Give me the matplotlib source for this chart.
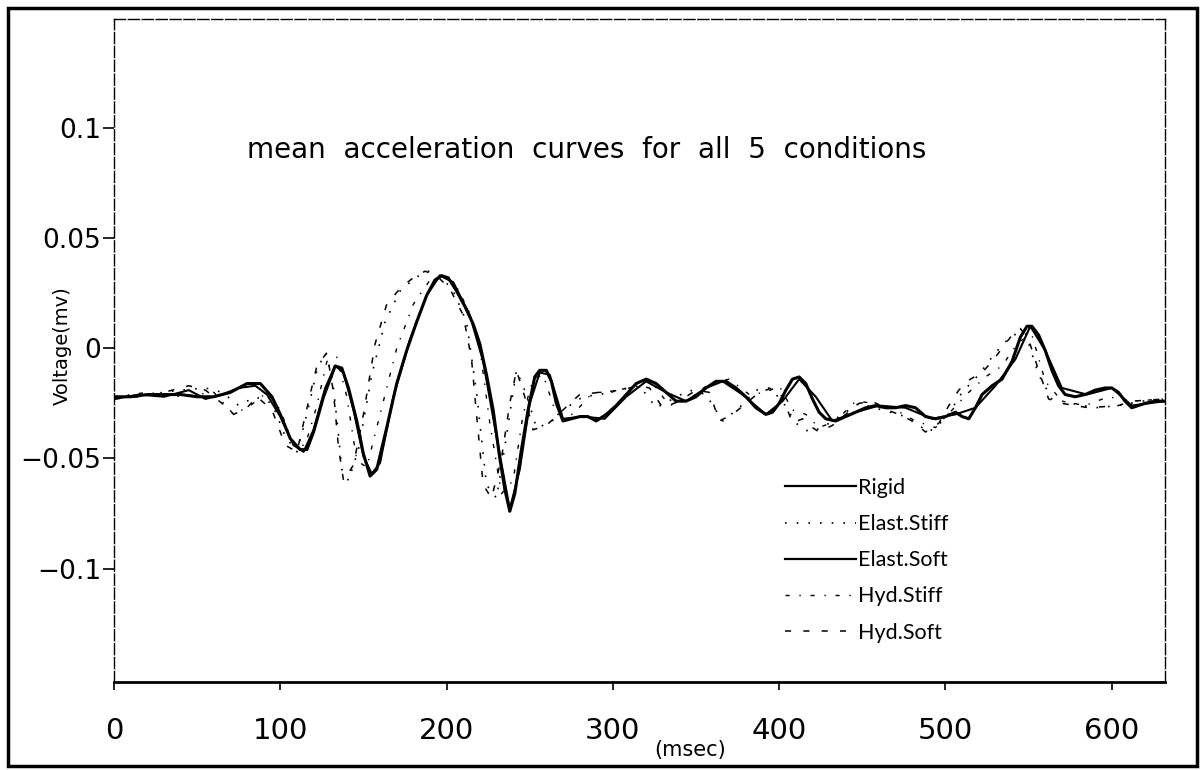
import numpy as np
import matplotlib
matplotlib.use("Agg")
import matplotlib.pyplot as plt
from matplotlib.patches import Rectangle

# =========================================================
# Data (time in msec, voltage in mv)
# =========================================================
rigid_t = [0, 10, 20, 30, 40, 50, 60, 70, 80, 88, 95, 100, 106, 112, 116, 120,
           126, 133, 137, 141, 146, 150, 154, 158, 164, 170, 176, 182, 188, 193,
           197, 201, 206, 211, 216, 220, 224, 228, 232, 235, 238, 241, 245, 249,
           253, 256, 260, 263, 266, 270, 275, 280, 285, 290, 296, 302, 308, 314,
           320, 326, 332, 338, 344, 350, 356, 362, 368, 374, 380, 386, 392, 396,
           400, 404, 408, 412, 416, 420, 424, 428, 434, 440, 446, 452, 458, 464,
           470, 476, 482, 488, 494, 500, 506, 510, 514, 518, 522, 528, 534, 540,
           545, 549, 552, 556, 560, 564, 568, 572, 578, 584, 590, 596, 600, 604,
           608, 612, 616, 620, 626, 632]
rigid_v = [-0.022, -0.022, -0.021, -0.021, -0.021, -0.022, -0.022, -0.020, -0.016,
           -0.016, -0.022, -0.030, -0.041, -0.046, -0.046, -0.038, -0.022, -0.008,
           -0.009, -0.018, -0.033, -0.048, -0.058, -0.055, -0.036, -0.016, -0.001,
           0.012, 0.024, 0.031, 0.033, 0.032, 0.026, 0.019, 0.011, 0.002, -0.012,
           -0.028, -0.050, -0.064, -0.074, -0.066, -0.046, -0.028, -0.013, -0.010,
           -0.010, -0.015, -0.025, -0.033, -0.032, -0.031, -0.031, -0.033, -0.030,
           -0.026, -0.021, -0.016, -0.014, -0.016, -0.020, -0.024, -0.024, -0.022,
           -0.018, -0.015, -0.015, -0.018, -0.022, -0.027, -0.030, -0.029, -0.025,
           -0.019, -0.014, -0.013, -0.016, -0.023, -0.029, -0.032, -0.033, -0.031,
           -0.029, -0.027, -0.026, -0.027, -0.027, -0.026, -0.027, -0.031, -0.032,
           -0.031, -0.029, -0.031, -0.032, -0.027, -0.021, -0.017, -0.014, -0.006,
           0.005, 0.010, 0.010, 0.006, -0.001, -0.010, -0.017, -0.021, -0.022,
           -0.021, -0.019, -0.018, -0.018, -0.020, -0.024, -0.027, -0.026, -0.025,
           -0.024, -0.024]

elsoft_t = [0, 15, 30, 45, 55, 65, 75, 85, 92, 100, 108, 114, 120, 127, 133, 138,
            144, 150, 155, 160, 168, 178, 188, 196, 204, 214, 222, 230, 238, 244,
            250, 256, 262, 270, 282, 295, 308, 320, 332, 344, 356, 366, 378, 392,
            402, 412, 422, 432, 446, 460, 476, 492, 506, 518, 530, 542, 551, 560,
            570, 585, 600, 612, 632]
elsoft_v = [-0.023, -0.021, -0.022, -0.019, -0.023, -0.021, -0.018, -0.017, -0.021,
            -0.031, -0.044, -0.047, -0.037, -0.018, -0.008, -0.011, -0.028, -0.049,
            -0.057, -0.052, -0.022, 0.004, 0.024, 0.033, 0.030, 0.015, -0.006,
            -0.040, -0.073, -0.055, -0.025, -0.011, -0.012, -0.032, -0.031, -0.032,
            -0.022, -0.015, -0.020, -0.024, -0.018, -0.015, -0.021, -0.030, -0.024,
            -0.014, -0.022, -0.033, -0.029, -0.026, -0.027, -0.032, -0.030, -0.027,
            -0.017, -0.005, 0.010, -0.001, -0.018, -0.021, -0.018, -0.026, -0.024]

elstiff_t = [0, 20, 40, 55, 65, 75, 85, 95, 103, 110, 116, 122, 127, 131, 134, 137,
             141, 147, 155, 163, 172, 181, 189, 196, 204, 212, 218, 224, 230, 236,
             242, 248, 254, 262, 272, 282, 292, 304, 316, 326, 336, 346, 356, 366,
             376, 386, 394, 402, 410, 418, 426, 436, 448, 462, 476, 490, 500, 510,
             520, 530, 540, 548, 556, 564, 576, 590, 604, 618, 632]
elstiff_v = [-0.023, -0.021, -0.019, -0.018, -0.020, -0.026, -0.022, -0.025, -0.040,
             -0.047, -0.030, -0.010, -0.002, -0.012, -0.032, -0.055, -0.060, -0.046,
             -0.012, 0.012, 0.026, 0.032, 0.035, 0.033, 0.026, 0.012, -0.020,
             -0.062, -0.068, -0.040, -0.010, -0.021, -0.036, -0.034, -0.027, -0.022,
             -0.021, -0.019, -0.017, -0.027, -0.023, -0.019, -0.021, -0.033, -0.027,
             -0.019, -0.018, -0.024, -0.034, -0.038, -0.036, -0.031, -0.025, -0.028,
             -0.031, -0.038, -0.032, -0.020, -0.012, -0.002, 0.006, 0.007, -0.012,
             -0.023, -0.025, -0.027, -0.026, -0.024, -0.023]

hydstiff_t = [0, 20, 40, 60, 72, 82, 92, 100, 108, 115, 122, 128, 134, 140, 146,
              152, 160, 170, 180, 190, 198, 206, 214, 220, 226, 233, 240, 246, 252,
              258, 266, 276, 288, 300, 312, 322, 334, 346, 358, 370, 382, 392, 400,
              408, 416, 424, 434, 446, 458, 470, 482, 494, 504, 514, 524, 534, 544,
              552, 560, 570, 584, 598, 612, 632]
hydstiff_v = [-0.022, -0.020, -0.022, -0.020, -0.030, -0.026, -0.020, -0.028,
              -0.044, -0.044, -0.026, -0.006, -0.004, -0.022, -0.051, -0.054,
              -0.030, 0.000, 0.020, 0.031, 0.033, 0.028, 0.016, 0.000, -0.034,
              -0.066, -0.060, -0.030, -0.014, -0.012, -0.030, -0.030, -0.020,
              -0.020, -0.017, -0.014, -0.026, -0.023, -0.016, -0.014, -0.021,
              -0.020, -0.017, -0.028, -0.030, -0.036, -0.033, -0.024, -0.025,
              -0.028, -0.033, -0.036, -0.028, -0.020, -0.013, -0.008, 0.003,
              0.006, -0.015, -0.024, -0.026, -0.022, -0.024, -0.023]

hydsoft_t = [0, 15, 30, 45, 55, 65, 72, 80, 86, 95, 103, 110, 117, 122, 128, 132,
             135, 138, 144, 150, 157, 164, 173, 180, 187, 194, 202, 210, 215, 218,
             222, 227, 233, 238, 242, 247, 252, 260, 270, 280, 292, 305, 315, 322,
             330, 340, 350, 358, 364, 372, 380, 388, 396, 402, 408, 414, 420, 424,
             432, 440, 448, 456, 465, 472, 480, 488, 496, 502, 508, 515, 522, 528,
             534, 540, 545, 550, 556, 562, 570, 586, 604, 612, 632]
hydsoft_v = [-0.023, -0.022, -0.020, -0.017, -0.019, -0.025, -0.030, -0.027,
             -0.022, -0.028, -0.044, -0.047, -0.024, -0.008, -0.002, -0.020,
             -0.045, -0.060, -0.053, -0.030, 0.002, 0.020, 0.028, 0.032, 0.035,
             0.033, 0.027, 0.015, -0.005, -0.030, -0.062, -0.068, -0.050, -0.025,
             -0.010, -0.022, -0.037, -0.035, -0.028, -0.021, -0.020, -0.019,
             -0.017, -0.018, -0.027, -0.024, -0.019, -0.020, -0.033, -0.030,
             -0.025, -0.020, -0.018, -0.022, -0.034, -0.032, -0.036, -0.038,
             -0.035, -0.030, -0.025, -0.024, -0.028, -0.030, -0.033, -0.038,
             -0.034, -0.026, -0.019, -0.014, -0.011, -0.006, 0.000, 0.006, 0.009,
             0.004, -0.010, -0.023, -0.025, -0.027, -0.026, -0.024, -0.023]

series_names = ["Rigid", "Elast.Stiff", "Elast.Soft", "Hyd.Stiff", "Hyd.Soft"]

x_ticks = [0, 100, 200, 300, 400, 500, 600]
y_ticks = [-0.1, -0.05, 0, 0.05, 0.1]
y_tick_labels = ["\u22120.1", "\u22120.05", "0", "0.05", "0.1"]

# =========================================================
# Figure
# =========================================================
W, H = 1202, 770
fig = plt.figure(figsize=(W / 100, H / 100), dpi=100)
fig.patch.set_facecolor("white")

# outer border of the scanned page
fig.add_artist(Rectangle((8 / W, 1 - 766 / H), (1197 - 8) / W, (766 - 8) / H,
                         transform=fig.transFigure, fill=False, lw=2.5,
                         edgecolor="black"))

ax = fig.add_axes([114 / W, 1 - 682 / H, (1165 - 114) / W, (682 - 19) / H])

ax.plot(hydsoft_t, hydsoft_v, color="black", lw=1.1, ls=(0, (4, 8)))
ax.plot(hydstiff_t, hydstiff_v, color="black", lw=1.0, ls=(0, (3, 7, 1, 7)))
ax.plot(elstiff_t, elstiff_v, color="black", lw=1.2, ls=(0, (1, 6)))
ax.plot(elsoft_t, elsoft_v, color="black", lw=1.5)
ax.plot(rigid_t, rigid_v, color="black", lw=2.2)

ax.set_xlim(0, 632)
ax.set_ylim(-0.1515, 0.1495)

ax.set_xticks(x_ticks)
ax.set_xticklabels([str(t) for t in x_ticks], fontsize=21)
ax.set_yticks(y_ticks)
ax.set_yticklabels(y_tick_labels, fontsize=19)
ax.tick_params(axis="x", direction="out", length=6, width=1.2, pad=19)
ax.tick_params(axis="y", direction="out", length=8, width=1.2, pad=1)

for side in ["left", "top", "right"]:
    ax.spines[side].set_linewidth(1.0)
    ax.spines[side].set_linestyle((0, (8, 2)))
ax.spines["bottom"].set_linewidth(2.0)

ax.text(284, 0.0898, "mean  acceleration  curves  for  all  5  conditions",
        ha="center", va="center", fontsize=20)

fig.text(62 / W, 1 - 346 / H, "Voltage(mv)", rotation=90, ha="center",
         va="center", fontsize=14)
fig.text(690 / W, 1 - 750 / H, "(msec)", ha="center", va="center", fontsize=15)

# legend, drawn as in the original: short line then label
leg_styles = [dict(lw=1.6, ls="-"), dict(lw=1.2, ls=(0, (1, 6))),
              dict(lw=1.6, ls="-"), dict(lw=1.0, ls=(0, (3, 7, 1, 7))),
              dict(lw=1.1, ls=(0, (4, 8)))]
handles = [plt.Line2D([], [], color="black", **st) for st in leg_styles]
ax.legend(handles, series_names, loc="upper left", frameon=False,
          bbox_to_anchor=(785 / W, 1 - 478 / H), bbox_transform=fig.transFigure,
          handlelength=3.3, handletextpad=0.1, labelspacing=0.75,
          borderpad=0, borderaxespad=0, prop={"family": "Lato", "size": 15.5})

fig.savefig("out.png", dpi=100)
